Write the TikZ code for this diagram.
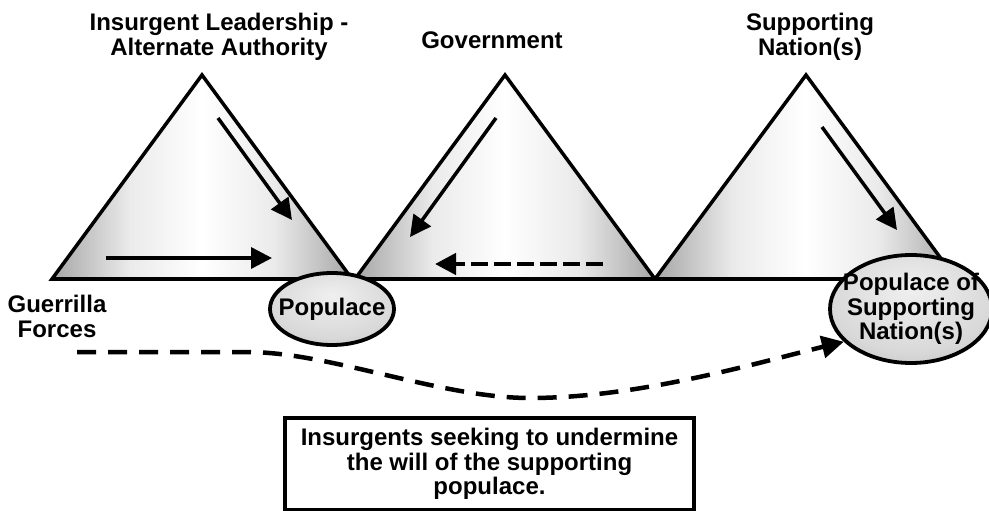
\documentclass[tikz,border=0pt]{standalone}
\usepackage{fontspec}
\setmainfont{Liberation Sans}
\usepackage{tikz}
\usetikzlibrary{shapes.geometric, arrows, arrows.meta}

\pgfdeclarehorizontalshading{pyrshade}{100bp}{color(0bp)=(black!68); color(20bp)=(black!45); color(38bp)=(black!8); color(50bp)=(white); color(62bp)=(black!8); color(80bp)=(black!45); color(100bp)=(black!68)}
\pgfdeclareradialshading{popshade}{\pgfpoint{0bp}{10bp}}{color(0bp)=(black!6); color(25bp)=(black!15); color(55bp)=(black!38)}

\tikzstyle{pyr} = [shade, shading=pyrshade, draw=black, line width=3.5pt, line join=miter]
\tikzstyle{baseln} = [line width=3.5pt]
\tikzstyle{heading} = [font=\fontsize{24}{24.5}\selectfont\bfseries, align=center, inner sep=0pt, anchor=north]
\tikzstyle{pop} = [ellipse, draw=black, line width=3.8pt, shade, shading=popshade, font=\fontsize{24}{24.5}\selectfont\bfseries, align=center, inner sep=-20pt]
\tikzstyle{notebox} = [rectangle, draw=black, fill=white, line width=3.8pt, minimum width=409pt, minimum height=92pt, font=\fontsize{24}{24.5}\selectfont\bfseries, align=center]
\tikzstyle{arrow} = [line width=3.5pt, -{Triangle[length=21pt,width=21pt]}]
\tikzstyle{dasharrow} = [line width=4.5pt, -{Triangle[length=22pt,width=22pt]}, dash pattern=on 19pt off 12pt]
\tikzstyle{dashshort} = [line width=4.5pt, -{Triangle[length=21pt,width=21pt]}, dash pattern=on 17pt off 6pt]

\begin{document}
\begin{tikzpicture}[x=1pt, y=-1pt]

        \useasboundingbox (0,0) rectangle (989,511);

        % Corners of the three pyramids
        \coordinate (lbl) at (52,279);
        \coordinate (lap) at (202,75);
        \coordinate (lbr) at (352,279);
        \coordinate (mbl) at (355,279);
        \coordinate (map) at (505,75);
        \coordinate (mbr) at (655,279);
        \coordinate (rbl) at (655,279);
        \coordinate (rap) at (806,75);
        \coordinate (rbr) at (956,279);

        \draw [pyr] (lbl) -- (lap) -- (lbr) -- cycle;
        \draw [pyr] (mbl) -- (map) -- (mbr) -- cycle;
        \draw [pyr] (rbl) -- (rap) -- (rbr) -- cycle;
        \draw [baseln] (lbl) -- (rbr);

        % Arrows inside the pyramids
        \coordinate (la1) at (218,118);
        \coordinate (la2) at (292,220);
        \coordinate (lb1) at (106,258);
        \coordinate (lb2) at (272,258);
        \coordinate (ma1) at (496,118);
        \coordinate (ma2) at (410,237);
        \coordinate (mb1) at (603,264);
        \coordinate (mb2) at (435,264);
        \coordinate (ra1) at (822,127);
        \coordinate (ra2) at (897,230);

        \draw [arrow] (la1) -- (la2);
        \draw [arrow] (lb1) -- (lb2);
        \draw [arrow] (ma1) -- (ma2);
        \draw [dashshort] (mb1) -- (mb2);
        \draw [arrow] (ra1) -- (ra2);

        % Labels
        \node (lead) [heading] at (219,13) {Insurgent Leadership -\\Alternate Authority};
        \node (gov) [heading] at (492,32) {Government};
        \node (supp) [heading] at (810,13) {Supporting\\Nation(s)};
        \node (guer) [heading] at (57,295) {Guerrilla\\Forces};

        % Populations
        \node (popl) [pop, minimum width=124pt, minimum height=72pt] at (332,309) {Populace};
        \node (supnat) [pop, minimum width=162pt, minimum height=108pt] at (911,309) {Populace of\\Supporting\\Nation(s)};

        % Path of the insurgents
        \coordinate (gstart) at (77,352);
        \coordinate (gdip) at (530,398);
        \draw [dasharrow] (gstart) -- ++(170,0) .. controls (330,352) and (440,398) .. (gdip) .. controls (640,398) and (760,362) .. (supnat.206);

        \node (note) [notebox] at (489.5,464) {Insurgents seeking to undermine\\the will of the supporting\\populace.};

    \end{tikzpicture}
\end{document}
